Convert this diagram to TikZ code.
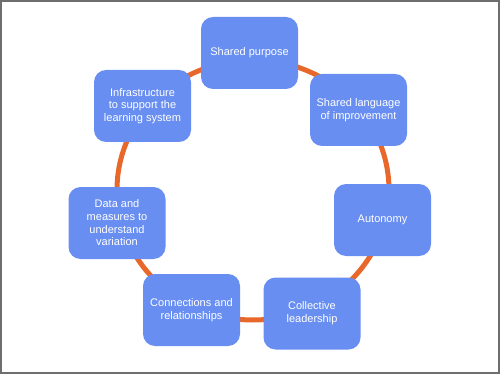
\documentclass[tikz,border=0pt]{standalone}
\usepackage{fontspec}
\setmainfont{Liberation Sans}
\usetikzlibrary{positioning}
\definecolor{boxblue}{RGB}{104,142,242}
\definecolor{ringorange}{RGB}{232,104,44}
\definecolor{framegray}{RGB}{110,110,110}
\tikzset{step box/.style={fill=boxblue, rounded corners=12pt, text=white, align=center,
    minimum width=97pt, minimum height=72pt, inner sep=2pt,
    font=\fontsize{11}{12.7}\selectfont},
  ring/.style={draw=ringorange, line width=5pt}}

\begin{document}
\begin{tikzpicture}[x=1pt, y=-1pt]
  \useasboundingbox (0,0) rectangle (500,374);
  \draw[framegray, line width=2pt] (1,1) rectangle (498.5,372.5);
  % the ring behind the boxes
  \coordinate (ctr) at (253,190);
  \draw[ring] (ctr) ellipse [x radius=136pt, y radius=130pt];
  \foreach \n/\x/\y/\t in {purpose/249.5/53/{Shared purpose},
      language/358.5/110/{Shared language\\of improvement},
      autonomy/382.5/220/{Autonomy},
      leadership/312/313.5/{Collective\\leadership},
      connections/191.5/310/{Connections and\\relationships},
      data/117/223/{Data and\\measures to\\understand\\variation},
      infra/142.5/106/{Infrastructure\\to support the\\learning system}}{
    \node[step box] (\n) at (\x,\y) {\t};}
\end{tikzpicture}
\end{document}
